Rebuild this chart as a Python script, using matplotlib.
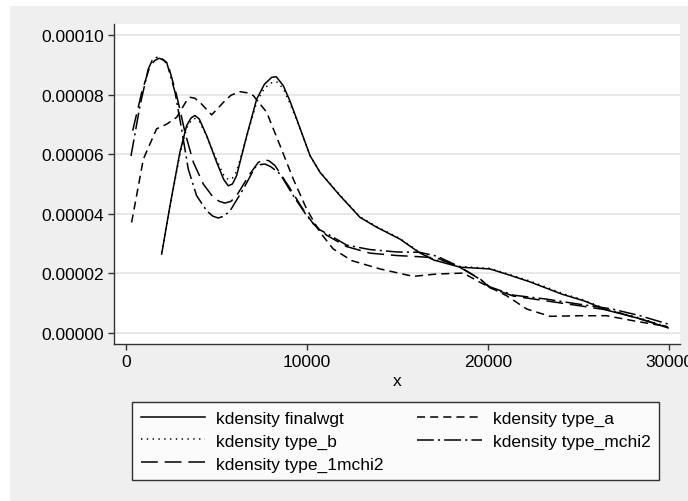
import numpy as np
import matplotlib.pyplot as plt
from matplotlib.patches import Rectangle
from matplotlib.ticker import FormatStrFormatter

plt.rcParams['font.family'] = ['Liberation Sans', 'DejaVu Sans']

# valores
x_final = [1970, 2430, 2980, 3350, 3600, 3810, 4050, 4460, 5010, 5400, 5650, 5880, 6110,
           6670, 7220, 7650, 8050, 8300, 8690, 9050, 9430, 10170, 10720, 11820, 12930,
           13850, 15140, 16200, 17000, 18450, 20100, 21000, 22300, 24100, 25300, 26600,
           28400, 29950]
y_final = [2.65e-5, 4.27e-5, 6.07e-5, 6.96e-5, 7.22e-5, 7.30e-5, 7.18e-5, 6.62e-5, 5.73e-5,
           5.15e-5, 4.94e-5, 5.00e-5, 5.28e-5, 6.62e-5, 7.85e-5, 8.35e-5, 8.58e-5, 8.60e-5,
           8.30e-5, 7.80e-5, 7.18e-5, 5.95e-5, 5.39e-5, 4.61e-5, 3.88e-5, 3.55e-5, 3.15e-5,
           2.70e-5, 2.45e-5, 2.21e-5, 2.15e-5, 1.98e-5, 1.72e-5, 1.30e-5, 1.08e-5, 7.6e-6,
           4.8e-6, 1.7e-6]

x_b = [1970, 2430, 2980, 3350, 3600, 3810, 4050, 4460, 5010, 5400, 5650, 5880, 6110,
       6670, 7220, 7650, 8100, 8350, 8690, 9050, 9430, 10170, 10720, 11820, 12930,
       13850, 15140, 16200, 17000, 18450, 20100, 21000, 22300, 24100, 25300, 26600,
       28400, 29950]
y_b = [2.70e-5, 4.25e-5, 6.00e-5, 6.88e-5, 7.13e-5, 7.20e-5, 7.10e-5, 6.60e-5, 5.80e-5,
       5.30e-5, 5.15e-5, 5.20e-5, 5.42e-5, 6.60e-5, 7.75e-5, 8.22e-5, 8.42e-5, 8.42e-5,
       8.20e-5, 7.72e-5, 7.15e-5, 5.95e-5, 5.40e-5, 4.63e-5, 3.90e-5, 3.57e-5, 3.17e-5,
       2.72e-5, 2.47e-5, 2.23e-5, 2.17e-5, 2.00e-5, 1.75e-5, 1.33e-5, 1.10e-5, 7.9e-6,
       5.0e-6, 2.0e-6]

x_a = [310, 960, 1690, 2250, 2800, 3300, 3540, 3800, 4090, 4730, 5380, 5800, 6300, 6700,
       7030, 7770, 8510, 9240, 9980, 10720, 11450, 12470, 14030, 15870, 17160, 18640,
       19560, 21030, 22140, 23430, 25080, 26560, 28030, 29870]
y_a = [3.71e-5, 5.84e-5, 6.85e-5, 7.01e-5, 7.24e-5, 7.75e-5, 7.91e-5, 7.88e-5, 7.74e-5,
       7.32e-5, 7.74e-5, 7.98e-5, 8.10e-5, 8.06e-5, 7.97e-5, 7.41e-5, 6.29e-5, 5.17e-5,
       4.16e-5, 3.38e-5, 2.82e-5, 2.43e-5, 2.15e-5, 1.90e-5, 1.98e-5, 2.01e-5, 1.70e-5,
       1.25e-5, 8.05e-6, 5.6e-6, 5.8e-6, 5.8e-6, 4.1e-6, 2.2e-6]

x_mchi2 = [276, 773, 1230, 1450, 1690, 1950, 2250, 2710, 3070, 3440, 3900, 4460, 4800,
           5100, 5400, 5750, 6480, 7130, 7400, 7680, 8000, 8510, 9240, 9980, 10620, 11090,
           12190, 13480, 14960, 16200, 17170, 18450, 19560, 20100, 21400, 23200, 25000,
           26830, 28400, 29950]
y_mchi2 = [5.94e-5, 7.63e-5, 8.86e-5, 9.15e-5, 9.25e-5, 9.22e-5, 9.08e-5, 8.08e-5, 6.85e-5,
           5.50e-5, 4.61e-5, 4.10e-5, 3.92e-5, 3.86e-5, 3.92e-5, 4.10e-5, 4.83e-5, 5.56e-5,
           5.65e-5, 5.67e-5, 5.58e-5, 5.34e-5, 4.61e-5, 3.94e-5, 3.49e-5, 3.34e-5, 2.95e-5,
           2.80e-5, 2.72e-5, 2.71e-5, 2.58e-5, 2.22e-5, 1.80e-5, 1.55e-5, 1.27e-5, 1.14e-5,
           9.7e-6, 8.1e-6, 5.8e-6, 3.0e-6]

x_1mchi2 = [370, 870, 1330, 1600, 1840, 2100, 2340, 2800, 3260, 3720, 4270, 4820, 5150,
            5470, 5800, 6110, 6850, 7300, 7590, 7900, 8230, 8970, 9710, 10350, 11090, 12190,
            13480, 14960, 16200, 17170, 18450, 19560, 20100, 21400, 23200, 25000, 26830,
            28400, 29950]
y_1mchi2 = [6.79e-5, 8.08e-5, 8.97e-5, 9.15e-5, 9.22e-5, 9.15e-5, 8.97e-5, 7.97e-5, 6.73e-5,
            5.73e-5, 5.00e-5, 4.55e-5, 4.42e-5, 4.36e-5, 4.42e-5, 4.61e-5, 5.34e-5, 5.72e-5,
            5.82e-5, 5.78e-5, 5.62e-5, 4.94e-5, 4.22e-5, 3.66e-5, 3.28e-5, 2.90e-5, 2.68e-5,
            2.60e-5, 2.56e-5, 2.52e-5, 2.20e-5, 1.82e-5, 1.52e-5, 1.24e-5, 1.08e-5, 9.2e-6,
            7.5e-6, 4.7e-6, 2.0e-6]

etiquetas = ['kdensity finalwgt', 'kdensity type_a', 'kdensity type_b',
             'kdensity type_mchi2', 'kdensity type_1mchi2']
xticks = [0, 10000, 20000, 30000]
yticks = [0, 2e-5, 4e-5, 6e-5, 8e-5, 1e-4]

W, H = 688, 502
fig = plt.figure(figsize=(W / 100, H / 100), dpi=100, facecolor='white')
fig.patches.append(Rectangle((10 / W, 0), 1, 1 - 7 / H, transform=fig.transFigure,
                             facecolor='#efefef', edgecolor='none', zorder=-10))

ax = fig.add_axes([114 / W, 1 - 345 / H, (680 - 114) / W, (345 - 25) / H])
ax.set_facecolor('white')

lw = 1.1
ax.plot(x_final, y_final, color='black', lw=lw, label=etiquetas[0])
ax.plot(x_a, y_a, color='black', lw=lw, ls=(0, (5.3, 3.3)), label=etiquetas[1])
ax.plot(x_b, y_b, color='black', lw=lw, ls=(0, (0.9, 2.9)), label=etiquetas[2])
ax.plot(x_mchi2, y_mchi2, color='black', lw=lw, ls=(0, (11, 2.7, 1.4, 2.7)), label=etiquetas[3])
ax.plot(x_1mchi2, y_1mchi2, color='black', lw=lw, ls=(0, (11, 4.5)), label=etiquetas[4])

ax.set_xlim(-663, 30608)
ax.set_ylim(-3.69e-6, 1.037e-4)
ax.set_xticks(xticks)
ax.set_yticks(yticks)
ax.yaxis.set_major_formatter(FormatStrFormatter('%.5f'))
ax.tick_params(labelsize=12.5, length=4, width=1, color='#333333', pad=3)
ax.grid(axis='y', color='#e6e6e6', lw=1.3)
ax.set_axisbelow(True)
for s in ['top', 'right']:
    ax.spines[s].set_visible(False)
for s in ['left', 'bottom']:
    ax.spines[s].set_color('#333333')
    ax.spines[s].set_linewidth(1.0)
ax.set_xlabel('x', fontsize=12.5, labelpad=3)

# orden de la leyenda en dos columnas
h, l = ax.get_legend_handles_labels()
orden = [0, 2, 4, 1, 3]
leg = fig.legend([h[i] for i in orden], [l[i] for i in orden], ncol=2,
                 loc='upper left', bbox_to_anchor=(132 / W, 1 - 403 / H),
                 fontsize=12.5, frameon=True, fancybox=False, edgecolor='black',
                 handlelength=3.7, handletextpad=0.65, columnspacing=1.95,
                 labelspacing=0.44, borderpad=0.49, borderaxespad=0)
leg.get_frame().set_linewidth(1.0)

fig.savefig('out.png', dpi=100, facecolor=fig.get_facecolor())
